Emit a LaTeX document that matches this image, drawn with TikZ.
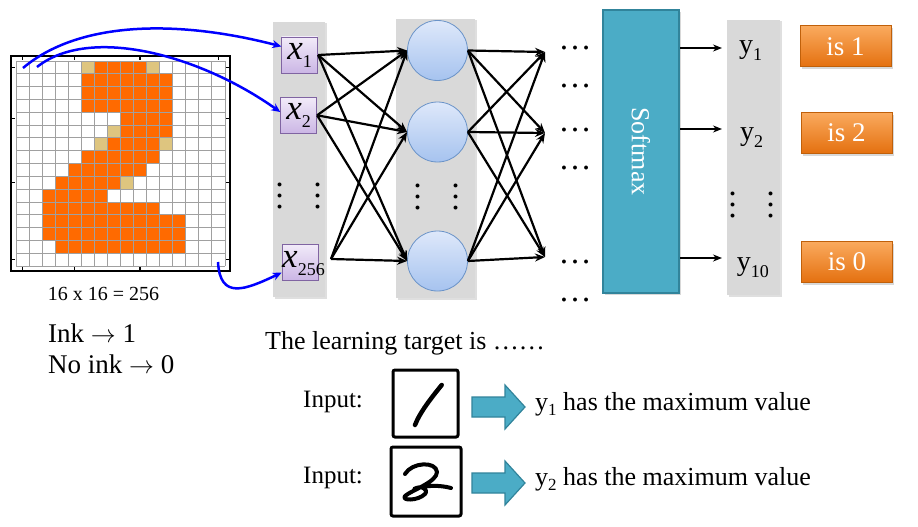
\documentclass[tikz,border=0pt]{standalone}
\usepackage{fontspec}
\setmainfont{Liberation Serif}
\usetikzlibrary{arrows.meta,shadows}
\newcommand{\setfs}[1]{\fontsize{#1}{#1}\selectfont}
\definecolor{colgray}{HTML}{D9D9D9}
\definecolor{inkor}{HTML}{FF6A00}
\definecolor{inktan}{HTML}{DEC57F}
\definecolor{gridln}{HTML}{A0A0A0}
\definecolor{xdraw}{HTML}{8064A2}
\definecolor{xtop}{HTML}{F2EBF9}
\definecolor{xbot}{HTML}{CBB6E5}
\definecolor{ndraw}{HTML}{6A93C8}
\definecolor{ntop}{HTML}{DEE8FA}
\definecolor{nbot}{HTML}{A6C3EF}
\definecolor{sfill}{HTML}{4BACC6}
\definecolor{sdraw}{HTML}{31849B}
\definecolor{otop}{HTML}{FAAA5E}
\definecolor{obot}{HTML}{E4700F}
\definecolor{odraw}{HTML}{C0600A}
\begin{document}
\begin{tikzpicture}[x=1pt,y=-1pt,
  colbg/.style={fill=colgray, draw=none, inner sep=0pt, drop shadow={opacity=0.25, shadow xshift=1.5pt, shadow yshift=-1.5pt}},
  xbox/.style={draw=xdraw, line width=0.8pt, top color=xtop, bottom color=xbot, minimum width=36pt, minimum height=36pt, inner sep=0pt},
  xlab/.style={inner sep=0pt},
  neuron/.style={circle, draw=ndraw, line width=0.8pt, top color=ntop, bottom color=nbot, minimum size=60pt, inner sep=0pt},
  conn/.style={line width=2.2pt, -{Stealth[length=10pt,width=8pt]}},
  bluearr/.style={draw=blue, line width=2.5pt, -{Stealth[length=9pt,width=8pt]}},
  hdots/.style={inner sep=0pt, font=\setfs{33}},
  vdots/.style={inner sep=0pt, rotate=90, font=\setfs{33}},
  outbox/.style={draw=odraw, line width=1pt, top color=otop, bottom color=obot, minimum width=91pt, minimum height=41pt, inner sep=0pt, text=white, font=\setfs{27}, drop shadow={opacity=0.3, shadow xshift=1.5pt, shadow yshift=-2pt}},
  softbox/.style={draw=sdraw, line width=2.5pt, fill=sfill, minimum width=283pt, minimum height=76pt, inner sep=0pt, rotate=-90, text=white, font=\setfs{26}, drop shadow={opacity=0.3, shadow xshift=1.5pt, shadow yshift=-2pt}},
  ylab/.style={anchor=base west, inner sep=0pt, font=\setfs{28}},
  txt/.style={anchor=base west, inner sep=0pt},
  digitbox/.style={draw=black, line width=3pt, rounded corners=2pt, fill=white},
  pen/.style={line width=4.5pt, line cap=round, line join=round},
  tealarrow/.style={fill=sfill, draw=sdraw, line width=1.2pt, line join=miter},
]
\useasboundingbox (0,0) rectangle (918,527);
\fill[white] (0,0) rectangle (918,527);

% ---------- pixel grid ----------
\fill[white] (11,56) rectangle (230,271);
\foreach \r/\a/\b in {0/6/9,1/5/11,2/5/11,3/5/11,4/8/11,5/8/11,6/7/10,7/5/10,8/4/9,9/3/7,10/2/6,11/2/10,12/2/12,13/2/12,14/3/12}{
  \foreach \c in {\a,...,\b}{
    \fill[inkor] (16+13.06*\c,61+12.82*\r) rectangle ++(13.06,12.82);
  }
}
\foreach \c/\r in {5/0,10/0,7/5,6/6,11/6,8/9}{
  \fill[inktan] (16+13.06*\c,61+12.82*\r) rectangle ++(13.06,12.82);
}
\foreach \i in {0,...,16}{
  \draw[gridln, line width=0.9pt] (16+13.06*\i,61) -- (16+13.06*\i,266.1);
  \draw[gridln, line width=0.9pt] (16,61+12.82*\i) -- (224.96,61+12.82*\i);
}
\draw[line width=1.8pt] (11,56) rectangle (230,271);
\foreach \i in {0,4,9,15}{
  \draw[line width=1.2pt] (16+13.06*\i+6.53,271) -- ++(0,-4);
  \draw[line width=1.2pt] (16+13.06*\i+6.53,56) -- ++(0,4);
  \draw[line width=1.2pt] (11,61+12.82*\i+6.41) -- ++(4,0);
  \draw[line width=1.2pt] (230,61+12.82*\i+6.41) -- ++(-4,0);
}
\coordinate (g1) at (23,68);
\coordinate (g2) at (37,67);
\coordinate (g3) at (218,262);

\node[txt, font=\setfs{20}, anchor=base] (dim) at (103.5,300) {16 x 16 = 256};
\node[txt, font=\setfs{27}] (ink) at (48,342) {Ink $\rightarrow$ 1};
\node[txt, font=\setfs{27}] (noink) at (48,373) {No ink $\rightarrow$ 0};

% ---------- columns ----------
\node[colbg, minimum width=52pt, minimum height=275pt] (colx) at (299,159.5) {};
\node[colbg, minimum width=79pt, minimum height=279pt] (colh) at (435.5,158.5) {};
\node[colbg, minimum width=53pt, minimum height=275pt] (coly) at (753.5,157.5) {};

% ---------- input nodes ----------
\node[xbox] (x1) at (299.7,55) {{\setfs{35}\itshape x}\raisebox{-8pt}{\setfs{18}1}};
\node[xbox] (x2) at (298.7,115.3) {{\setfs{35}\itshape x}\raisebox{-8pt}{\setfs{18}2}};
\node[xbox] (x3) at (300,262) {};
\node[xlab] (x3t) at (303.5,263.5) {{\setfs{35}\itshape x}\raisebox{-8pt}{\setfs{18}256}};
\coordinate (x3o) at (331,259);
\node[vdots] (vdx1) at (280,196) {…};
\node[vdots] (vdx2) at (318,196) {…};

% ---------- hidden nodes ----------
\node[neuron] (h1) at (437.5,50.5) {};
\node[neuron] (h2) at (437.5,132) {};
\node[neuron] (h3) at (437.5,261) {};
\node[vdots] (vdh1) at (418,197) {…};
\node[vdots] (vdh2) at (456,197) {…};

\foreach \s in {x1.east,x2.east,x3o}{
  \foreach \t in {h1,h2,h3}{
    \draw[conn] (\s) -- (\t.west);
  }
}
\coordinate (o1) at (545,52);
\coordinate (o2) at (545,133);
\coordinate (o3) at (545,257);
\foreach \s in {h1,h2,h3}{
  \foreach \t in {o1,o2,o3}{
    \draw[conn] (\s.east) -- (\t);
  }
}
\foreach \y [count=\k] in {48,86,130,168,262,300}{
  \node[hdots] (hd\k) at (575,\y) {…};
}

% ---------- softmax ----------
\node[softbox] (sm) at (641,151.5) {Softmax};
\coordinate (ya1) at (722,48);
\coordinate (ya2) at (722,129);
\coordinate (ya3) at (722,258);
\foreach \k in {1,2,3}{
  \draw[line width=2pt, -{Stealth[length=9pt,width=7pt]}] (sm.north |- ya\k) -- (ya\k);
}
\node[ylab] (y1) at (739,53.3) {y\raisebox{-7pt}{\setfs{18}1}};
\node[ylab] (y2) at (740,140) {y\raisebox{-7pt}{\setfs{18}2}};
\node[ylab] (y3) at (736.7,270) {y\raisebox{-7pt}{\setfs{18}10}};
\node[vdots] (vdy1) at (733,205) {…};
\node[vdots] (vdy2) at (771,205) {…};

\node[outbox] (c1) at (845.5,46.5) {is 1};
\node[outbox] (c2) at (846.5,133) {is 2};
\node[outbox] (c3) at (847,262) {is 0};

% ---------- blue arrows ----------
\draw[bluearr] (g1) .. controls (80,20) and (180,20) .. (x1.155);
\draw[bluearr] (g2) .. controls (90,25) and (200,55) .. (x2.170);
\draw[bluearr] (g3) .. controls (220,300) and (245,290) .. (x3.210);

% ---------- learning target ----------
\node[txt, font=\setfs{26}] (target) at (265,349) {The learning target is ……};
\node[txt, font=\setfs{25}] (in1) at (303,407) {Input:};
\node[txt, font=\setfs{25}] (in2) at (303,483) {Input:};
\node[digitbox, minimum width=65pt, minimum height=67pt] (d1) at (425.5,403.5) {};
\node[digitbox, minimum width=70pt, minimum height=69pt] (d2) at (426,481.5) {};
\draw[pen] (441.7,385) .. controls (432,397) and (420,412) .. (415,425);
\draw[pen, line width=4pt] (405,474) .. controls (412,462) and (436,461) .. (437,472) .. controls (437,482) and (412,490) .. (405,496) .. controls (401,501) and (418,501) .. (425,494) .. controls (429,489) and (421,485) .. (414,489) .. controls (426,485) and (440,485) .. (451,488);
\draw[tealarrow] (472,397) -- (505,397) -- (505,385) -- (525,407) -- (505,429) -- (505,417) -- (472,417) -- cycle;
\draw[tealarrow] (472,473) -- (505,473) -- (505,461) -- (525,483) -- (505,505) -- (505,493) -- (472,493) -- cycle;
\node[txt, font=\setfs{26}] (r1) at (535,410) {y\raisebox{-5pt}{\setfs{17}1} has the maximum value};
\node[txt, font=\setfs{26}] (r2) at (535,485) {y\raisebox{-5pt}{\setfs{17}2} has the maximum value};
\end{tikzpicture}
\end{document}
